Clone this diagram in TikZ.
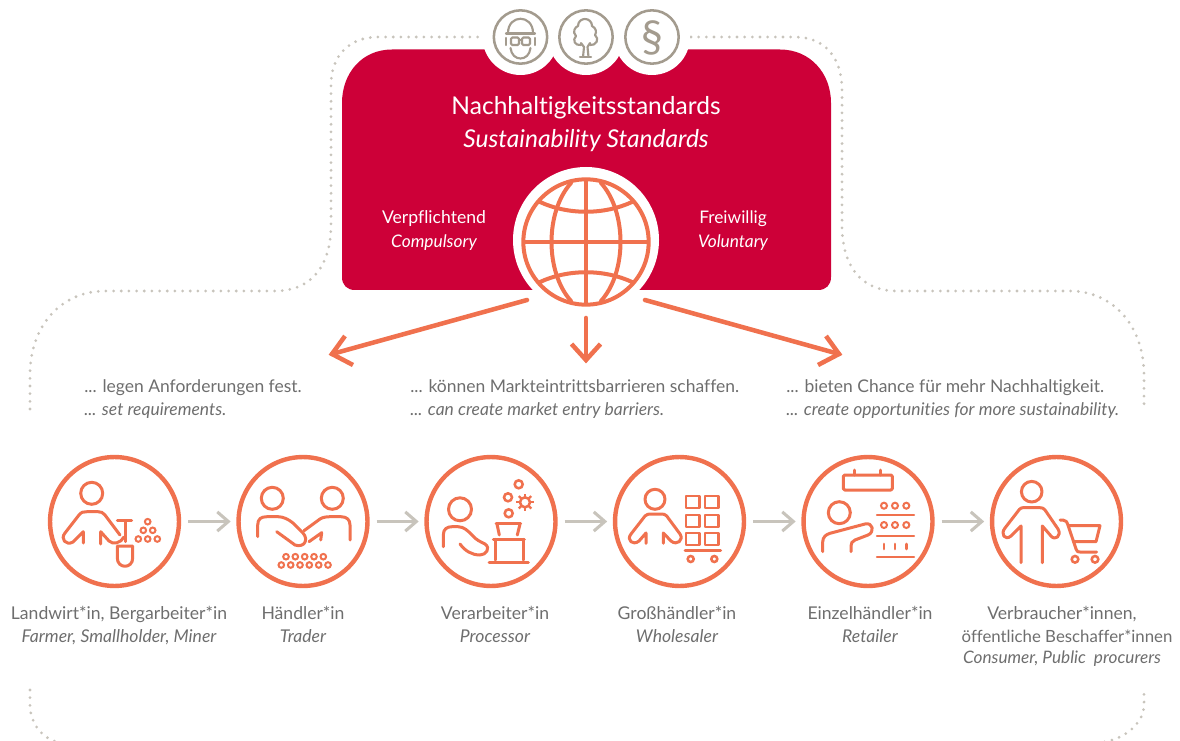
\documentclass[tikz,border=0pt]{standalone}
\usepackage{fontspec}
\setmainfont{Lato}[Ligatures=NoCommon]
\definecolor{crim}{RGB}{205,0,56}
\definecolor{oran}{RGB}{240,113,78}
\definecolor{taup}{RGB}{163,155,142}
\definecolor{lgray}{RGB}{200,196,188}
\definecolor{txt}{RGB}{110,110,110}
\tikzset{
  ic/.style={draw=oran,line width=2.25pt,line cap=round,line join=round},
  icc/.style={draw=oran,line width=1.5pt},
  ring/.style={circle,draw=oran,line width=3.3pt,minimum size=96.7pt,inner sep=0pt,fill=white},
  top/.style={circle,draw=taup,line width=1.9pt,minimum size=40pt,inner sep=0pt,fill=white},
  dotl/.style={draw=lgray,line width=2.3pt,line cap=round,dash pattern=on 0pt off 5.75pt},
  bigarr/.style={draw=oran,line width=3.4pt},
  chain/.style={draw=lgray,line width=2.3pt},
  lab/.style={text=txt,font=\fontsize{13.2}{16.8}\selectfont,inner sep=0pt,anchor=base},
  stm/.style={text=txt,font=\fontsize{13.1}{18}\selectfont,inner sep=0pt,anchor=base west},
  wht/.style={text=white,inner sep=0pt,anchor=base}
}
\begin{document}
\begin{tikzpicture}[x=0.75pt,y=-0.75pt]
\useasboundingbox (0,0) rectangle (1180,741);
% dotted
\draw[dotl] (30,409) -- (30,375) .. controls (30,325) and (62,291) .. (105,291) -- (275,291) .. controls (312,291) and (331,265) .. (331,225) -- (331,85) .. controls (331,55) and (350,37) .. (378,37) -- (480,37);
\draw[dotl] (691,37) -- (795,37) .. controls (825,37) and (842,58) .. (842,90) -- (842,225) .. controls (842,265) and (860,291) .. (897,291) -- (1070,291) .. controls (1112,291) and (1144,325) .. (1144,375) -- (1144,409);
\draw[dotl] (30,690) -- (30,705) .. controls (30,725) and (45,742.8) .. (65,742.8) -- (1095,742.8) .. controls (1120,742.8) and (1144,725) .. (1144,705) -- (1144,693);
% panel
\fill[crim] (342,103) .. controls (342,73) and (362,49.5) .. (392,49.5) -- (780,49.5) .. controls (810,49.5) and (831,73) .. (831,103) -- (831,277) .. controls (831,285) and (826,290) .. (818,290) -- (355,290) .. controls (347,290) and (342,285) .. (342,277) -- cycle;
\fill[white] (520.5,37) circle (38);
\fill[white] (586,37) circle (38);
\fill[white] (652,37) circle (38);
\fill[white] (586,240) circle (73);
% top icons
\node[top] (t1) at (520.5,37) {};
\node[top] (t2) at (586,37) {};
\node[top] (t3) at (652,37) {};
\begin{scope}[draw=taup,line width=1.6pt,line cap=round,line join=round]
\draw (508,33) .. controls (508,14) and (533,14) .. (533,33);
\draw (506,33.5) -- (535,33.5);
\draw (510.5,48) .. controls (512,62) and (529,62) .. (530.5,48);
\draw[rounded corners=1pt] (511,37.5) rectangle (519,45);
\draw[rounded corners=1pt] (522,37.5) rectangle (530,45);
\draw (519,40) -- (522,40);
\draw (506,38) -- (506,45);
\draw (535,38) -- (535,45);
% tree
\draw (581,45) .. controls (575,46) and (572,40) .. (576,36) .. controls (572,32) and (575,27) .. (578,26) .. controls (578,21) and (582,19) .. (585,19) .. controls (589,19) and (592,22) .. (592,26) .. controls (596,28) and (597,32) .. (595,35) .. controls (600,39) and (596,46) .. (590,45);
\draw (581,43) -- (584,47) -- (583,57);
\draw (590,43) -- (587.5,47) -- (588.5,57);
\draw (580,57) -- (591,57);
\end{scope}
\node[text=taup,font=\fontsize{33}{33}\selectfont,inner sep=0pt] (para) at (652,38) {§};
% panel text
\node[wht,font=\fontsize{18.4}{23}\selectfont] (h1) at (586,114.5) {Nachhaltigkeitsstandards};
\node[wht,font=\fontsize{18.4}{23}\selectfont\itshape] (h2) at (586,147.5) {Sustainability Standards};
\node[wht,font=\fontsize{13.2}{18}\selectfont] (l1) at (434,224) {Verpflichtend};
\node[wht,font=\fontsize{13}{18}\selectfont\itshape] (l2) at (434,248) {Compulsory};
\node[wht,font=\fontsize{13}{18}\selectfont] (r1) at (733,224) {Freiwillig};
\node[wht,font=\fontsize{13}{18}\selectfont\itshape] (r2) at (733,248) {Voluntary};
% globe
\begin{scope}[draw=oran,line width=3pt,line cap=round]
\node[circle,draw=oran,line width=3pt,minimum size=94pt,inner sep=0pt] (globe) at (586,242) {};
\draw (586,180) -- (586,304);
\draw (524,242) -- (648,242);
\draw (571,183) .. controls (545,212) and (545,272) .. (571,301);
\draw (601,183) .. controls (627,212) and (627,272) .. (601,301);
\draw (540,202) .. controls (568,215) and (604,215) .. (632,202);
\draw (540,282) .. controls (568,269) and (604,269) .. (632,282);
\end{scope}
% big arrows
\coordinate (a1s) at (527,300); \coordinate (a1e) at (332,354);
\coordinate (a2s) at (586,318); \coordinate (a2e) at (586,360);
\coordinate (a3s) at (645,300); \coordinate (a3e) at (839,354);
\draw[bigarr,line cap=round] (a1s) -- (a1e);
\draw[bigarr,line cap=round] (a2s) -- (a2e);
\draw[bigarr,line cap=round] (a3s) -- (a3e);
\draw[bigarr,line join=miter] (345,336) -- (a1e) -- (353,365);
\draw[bigarr,line join=miter] (571.5,344) -- (a2e) -- (600.5,344);
\draw[bigarr,line join=miter] (826,336) -- (a3e) -- (818,365);
% statements
\node[stm] (s1) at (84,392) {... legen Anforderungen fest.};
\node[stm] (s1e) at (84,415.5) {\itshape ... set requirements.};
\node[stm] (s2) at (410,392) {... können Markteintrittsbarrieren schaffen.};
\node[stm] (s2e) at (410,415.5) {\itshape ... can create market entry barriers.};
\node[stm] (s3) at (786,392) {... bieten Chance für mehr Nachhaltigkeit.};
\node[stm] (s3e) at (786,415.5) {\itshape ... create opportunities for more sustainability.};
% rings
\node[ring] (c1) at (114.5,521.5) {};
\node[ring] (c2) at (303,521.5) {};
\node[ring] (c3) at (491,521.5) {};
\node[ring] (c4) at (679.5,521.5) {};
\node[ring] (c5) at (868,521.5) {};
\node[ring] (c6) at (1056.5,521.5) {};
% chain
\foreach \a/\b in {c1/c2,c2/c3,c3/c4,c4/c5,c5/c6}{
  \draw[chain] ([xshift=5.2pt]\a.east) -- ([xshift=-6pt]\b.west) coordinate (e);
  \draw[chain] ([shift={(-8.3pt,7.2pt)}]e) -- (e) -- ([shift={(-8.3pt,-7.2pt)}]e);
}
% icon 1 farmer
\draw[ic] (91.7,493.3) circle (11);
\draw[ic] (83.3,543) -- (83.3,531.7) -- (73,542) .. controls (66,546) and (60,539) .. (65,533) -- (79,515) .. controls (81,512) and (84,511.7) .. (87,511.7) -- (98,511.7) .. controls (101,511.7) and (103,512.5) .. (105,515) -- (120,535);
\draw[ic] (100.7,544) -- (100.7,531.7) -- (109,541) .. controls (113,545) and (121,543) .. (124,537);
\draw[ic] (117.3,520.7) -- (131.7,520.7);
\draw[ic] (125,520.7) -- (125,541.7);
\draw[ic] (117.3,546) -- (132.7,546) -- (132.7,558) .. controls (132.7,569) and (117.3,569) .. (117.3,558) -- cycle;
\foreach \x/\y in {147.7/521.7,143.3/530.3,152.7/530.3,138.3/539,147.7/539,157.3/539}
  \draw[icc] (\x,\y) circle (2.8);
% icon 2 traders
\draw[ic] (272.3,498.3) circle (11);
\draw[ic] (332.3,498.3) circle (11);
\draw[ic] (257.7,536.7) -- (257.7,525) .. controls (257.7,519) and (261,516.7) .. (267,516.7) -- (278,516.7) .. controls (283,516.7) and (288,519) .. (293,523) -- (303,533) .. controls (309,540) and (304,548) .. (295,545) -- (276.7,531.7);
\draw[ic] (304,530.7) -- (320,519) .. controls (323,517) and (327,516.7) .. (331,516.7) -- (341,516.7) .. controls (347,516.7) and (350,520) .. (350,525) -- (350,540);
\draw[ic] (309,541.7) -- (321.7,532.7) -- (320.7,540);
\foreach \x in {286,295.3,304.7,314,323.3}
  \draw[icc] (\x,556.7) circle (2.8);
\foreach \x in {281.3,290.7,300,309.3,318.7,328}
  \draw[icc] (\x,565) circle (2.8);
% icon 3 processor
\draw[ic] (460,509.3) circle (11.5);
\draw[ic] (443.3,546.7) -- (443.3,535) .. controls (443.3,529) and (447,526.7) .. (452,526.7) -- (458,526.7) .. controls (464,526.7) and (468,531) .. (472,535) .. controls (476,540) and (481,542) .. (485,544) .. controls (491,548) and (486,555) .. (480,555) .. controls (472,555) and (465,551) .. (460,544);
\draw[ic] (496,523.3) -- (520.7,523.3);
\draw[ic] (497,524) -- (499.3,535);
\draw[ic] (520,524) -- (517.3,535);
\draw[ic] (493.3,539.3) -- (524.3,539.3);
\draw[ic] (495,539.3) -- (495,560);
\draw[ic] (523.3,539.3) -- (523.3,560);
\draw[ic] (489,562.5) -- (528.3,562.5);
\draw[oran,line width=1.9pt] (508.7,513.3) circle (4);
\draw[oran,line width=1.9pt] (508,497.3) circle (4);
\draw[oran,line width=1.9pt] (518.7,484.3) circle (4);
\draw[oran,line width=1.9pt] (525,502.3) circle (5);
\foreach \a in {0,45,...,315}
  \draw[oran,line width=1.7pt] (525,502.3) ++(\a:5) -- ++(\a:3.8);
% icon 4 wholesaler
\draw[ic] (655,499.3) circle (10);
\draw[ic] (646,543.3) -- (646,533) -- (639,541) .. controls (633,546) and (626,540) .. (631,534) -- (645,516) .. controls (647,514.5) and (648,514) .. (650,514) -- (661.7,514) .. controls (664,514) and (665,514.5) .. (666.7,516) -- (680,534) .. controls (684,540) and (677,546) .. (671,541) -- (663.3,533) -- (663.3,543.3);
\foreach \x in {686,705} \foreach \y in {496,515,533}
  \draw[ic,line width=2pt] (\x,\y) rectangle ++(13.3,12);
\draw[ic] (685,550.7) -- (720.7,550.7);
\draw[oran,line width=1.9pt] (690.7,559) circle (3);
\draw[oran,line width=1.9pt] (714.3,559) circle (3);
% icon 5 retailer
\draw[ic,rounded corners=1pt] (843.3,475) rectangle (892.3,490);
\draw[ic] (854,470) -- (854,475);
\draw[ic] (880.7,470) -- (880.7,475);
\draw[ic] (839.3,512.7) circle (11);
\draw[ic] (822.7,551.7) -- (822.7,542) .. controls (822.7,537) and (826,534.5) .. (830,533.3) -- (865,524) .. controls (873,522) and (875,532) .. (868,535) -- (855,540) .. controls (852,541.5) and (851,543) .. (851,546) -- (851,551.7);
\foreach \x in {884,895,906.3} {
  \draw[icc] (\x,505.7) circle (3);
  \draw[icc] (\x,525) circle (3);
  \draw[ic,line width=2pt] (\x,544) -- (\x,549);
}
\draw[ic,line width=1.8pt] (877,515) -- (914,515);
\draw[ic,line width=1.8pt] (877,536) -- (914,536);
\draw[ic,line width=1.8pt] (877,556.7) -- (914,556.7);
% icon 6 consumer
\draw[ic] (1031.7,491.7) circle (10.3);
\draw[ic] (1021,562.7) -- (1021,526) -- (1011,536) .. controls (1005,541) and (1000,534) .. (1005,528) -- (1019.3,509.5) .. controls (1020.5,508) and (1022,507.7) .. (1023,507.7) -- (1040,507.7) .. controls (1042,507.7) and (1043.5,508) .. (1045,510) -- (1058,529) .. controls (1062,536) and (1055,541) .. (1051,536) -- (1042.3,526) -- (1042.3,562.7);
\draw[ic] (1060,520) -- (1063,520) .. controls (1066,520) and (1067,522) .. (1068.3,526) -- (1076,549) .. controls (1077,552) and (1078,552) .. (1080,552) -- (1096.7,552);
\draw[ic] (1068.3,525.7) -- (1100,525.7) -- (1096,541.7) -- (1073.3,541.7);
\draw[oran,line width=1.9pt] (1075,559.3) circle (3.3);
\draw[oran,line width=1.9pt] (1095,559.3) circle (3.3);
% labels
\node[lab] (n1) at (119,619) {Landwirt*in, Bergarbeiter*in};
\node[lab] (n1e) at (119,642) {\itshape Farmer, Smallholder, Miner};
\node[lab] (n2) at (303,619) {Händler*in};
\node[lab] (n2e) at (303,642) {\itshape Trader};
\node[lab] (n3) at (495,619) {Verarbeiter*in};
\node[lab] (n3e) at (495,642) {\itshape Processor};
\node[lab] (n4) at (677,619) {Großhändler*in};
\node[lab] (n4e) at (677,642) {\itshape Wholesaler};
\node[lab] (n5) at (870,619) {Einzelhändler*in};
\node[lab] (n5e) at (870,642) {\itshape Retailer};
\node[lab] (n6) at (1062,619) {Verbraucher*innen,};
\node[lab,font=\fontsize{12.6}{16.8}\selectfont] (n6b) at (1067,642) {öffentliche Beschaffer*innen};
\node[lab,font=\fontsize{12.9}{16.8}\selectfont] (n6e) at (1062,663) {\itshape Consumer, Public\ \ procurers};
\end{tikzpicture}
\end{document}
